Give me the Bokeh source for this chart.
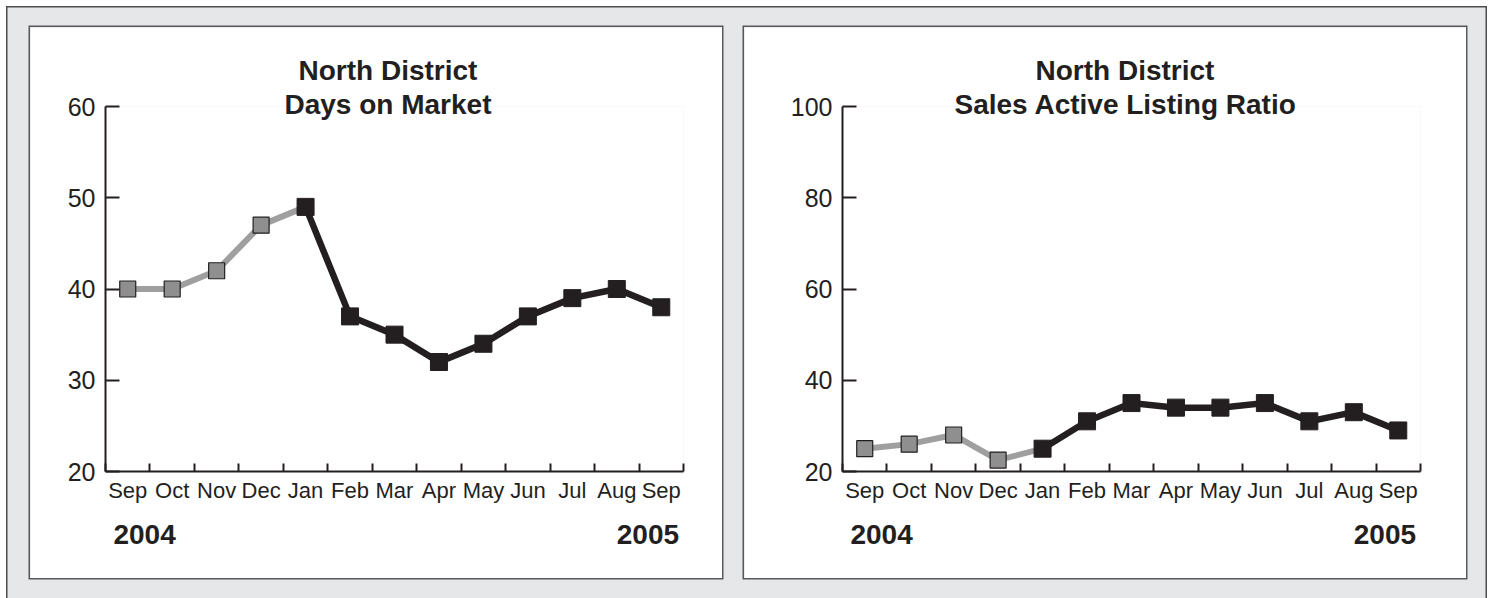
from bokeh.plotting import figure
from bokeh.models import Range1d, FixedTicker, LinearAxis, Title
from bokeh.layouts import row
from bokeh.embed import file_html
from bokeh.resources import INLINE

# ---- data ----
months = ["Sep", "Oct", "Nov", "Dec", "Jan", "Feb", "Mar", "Apr", "May", "Jun", "Jul", "Aug", "Sep"]
start_year = "2004"
end_year = "2005"
days_on_market = [40, 40, 42, 47, 49, 37, 35, 32, 34, 37, 39, 40, 38]
sales_listing_ratio = [25, 26, 28, 22.5, 25, 31, 35, 34, 34, 35, 31, 33, 29]
split_index = 4  # first 5 months drawn grey, from Jan on drawn black
dom_ticks = [20, 30, 40, 50, 60]
sal_ticks = [20, 40, 60, 80, 100]

INK = "#231f20"
GREY_LINE = "#9f9f9f"
GREY_FILL = "#8f8f8f"
FONT = "Liberation Sans"


def title(text, standoff, offset):
    return Title(text=text, align="left", offset=offset, standoff=standoff,
                 text_font=FONT, text_font_size="28px", text_font_style="bold",
                 text_color=INK)


def make_panel(title1, title2, offsets, values, yticks, width, left, right):
    height = 551
    top, bottom = 79, 107
    ymin, ymax = yticks[0], yticks[-1]
    n = len(months)
    p = figure(width=width, height=height, output_backend="svg", toolbar_location=None,
               x_range=Range1d(-0.5, n - 0.5), y_range=Range1d(ymin, ymax),
               min_border_left=left, min_border_right=right,
               min_border_top=top, min_border_bottom=bottom,
               background_fill_color="white", border_fill_color="white",
               outline_line_color=None,
               styles={"box-shadow": "0 0 0 1.5px #58595b"})
    p.xgrid.visible = False
    p.ygrid.visible = False

    # two title lines (second added last = outermost)
    p.title = None
    p.add_layout(title(title2, -26, offsets[1]), "above")
    p.add_layout(title(title1, 27, offsets[0]), "above")

    xs = list(range(n))
    gx, gy = xs[:split_index + 1], values[:split_index + 1]
    bx, by = xs[split_index:], values[split_index:]
    p.line(gx, gy, line_color=GREY_LINE, line_width=6, line_join="miter")
    p.line(bx, by, line_color=INK, line_width=6.5, line_join="miter")
    p.scatter(gx[:-1], gy[:-1], marker="square", size=16, fill_color=GREY_FILL,
              line_color=INK, line_width=1.2)
    p.scatter(bx, by, marker="square", size=17, fill_color=INK, line_color=INK)

    # x axis: labels at month centres, ticks between months
    xa = p.xaxis[0]
    xa.ticker = FixedTicker(ticks=xs, minor_ticks=[i - 0.5 for i in range(n + 1)])
    xa.major_label_overrides = {i: m for i, m in enumerate(months)}
    xa.major_tick_in = 0
    xa.major_tick_out = 0
    xa.minor_tick_in = 8
    xa.minor_tick_out = 0
    xa.minor_tick_line_width = 2
    xa.minor_tick_line_color = INK
    xa.axis_line_width = 2
    xa.axis_line_color = INK
    xa.major_label_standoff = 6
    xa.major_label_text_font = FONT
    xa.major_label_text_font_size = "22px"
    xa.major_label_text_color = INK

    # year captions under the month labels
    y_left, y_right = 0.38, 11.7
    yr = LinearAxis(ticker=FixedTicker(ticks=[y_left, y_right]),
                    major_label_overrides={y_left: start_year, y_right: end_year},
                    axis_line_color=None, major_tick_in=0, major_tick_out=0,
                    minor_tick_in=0, minor_tick_out=0,
                    major_label_standoff=19,
                    major_label_text_font=FONT, major_label_text_font_size="28px",
                    major_label_text_font_style="bold", major_label_text_color=INK)
    p.add_layout(yr, "below")

    ya = p.yaxis[0]
    ya.ticker = FixedTicker(ticks=yticks)
    ya.major_tick_in = 14
    ya.major_tick_out = 0
    ya.minor_tick_in = 0
    ya.minor_tick_out = 0
    ya.major_tick_line_width = 2
    ya.major_tick_line_color = INK
    ya.axis_line_width = 2
    ya.axis_line_color = INK
    ya.major_label_standoff = 10
    ya.major_label_text_font = FONT
    ya.major_label_text_font_size = "25px"
    ya.major_label_text_color = INK
    return p


p1 = make_panel("North District", "Days on Market", (193, 179),
                days_on_market, dom_ticks, 692, 75, 39)
p2 = make_panel("North District", "Sales Active Listing Ratio", (193, 112),
                sales_listing_ratio, sal_ticks, 722, 98, 46)
p1.margin = (21, 0, 20, 24)
p2.margin = (21, 21, 20, 22)

layout = row(p1, p2, margin=(6, 0, 0, 6),
             styles={"background-color": "#e6e7e8",
                     "box-shadow": "inset 1.5px 1.5px 0 0 #4d4d4f, inset -1.5px 0 0 0 #4d4d4f"})

open("out.html", "w").write(file_html(layout, INLINE))
